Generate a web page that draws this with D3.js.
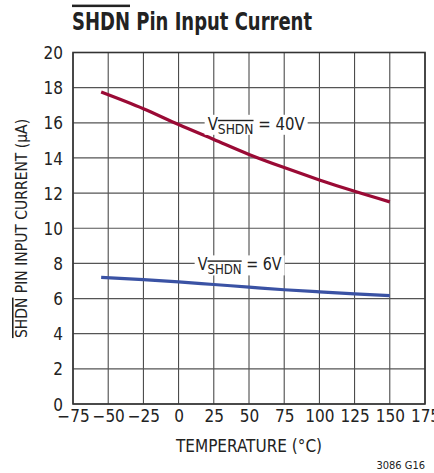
<!DOCTYPE html>
<html>
<head>
<meta charset="utf-8">
<script src="https://cdn.jsdelivr.net/npm/d3@7"></script>
<style>
  body { margin: 0; background: #fff; }
  svg { display: block; font-family: "DejaVu Sans Condensed", "Liberation Sans Narrow", sans-serif; }
</style>
</head>
<body>
<svg id="chart" width="434" height="473"></svg>
<script>
// data
const temps = [-55, -25, 0, 25, 50, 75, 100, 125, 150];
const i40 = [17.75, 16.8, 15.9, 15.05, 14.2, 13.45, 12.75, 12.1, 11.5];
const i6 = [7.2, 7.08, 6.95, 6.8, 6.65, 6.5, 6.38, 6.27, 6.17];
const xTicks = [-75, -50, -25, 0, 25, 50, 75, 100, 125, 150, 175];
const yTicks = [0, 2, 4, 6, 8, 10, 12, 14, 16, 18, 20];

const svg = d3.select('#chart');
const margin = { top: 52.5, right: 9, bottom: 69, left: 73 };
const width = 434 - margin.left - margin.right;
const height = 473 - margin.top - margin.bottom;

const x = d3.scaleLinear().domain([-75, 175]).range([0, width]);
const y = d3.scaleLinear().domain([0, 20]).range([height, 0]);

const g = svg.append('g').attr('transform', `translate(${margin.left},${margin.top})`);

// grid
g.selectAll('.vg').data(xTicks).enter().append('line')
  .attr('x1', d => x(d)).attr('x2', d => x(d))
  .attr('y1', 0).attr('y2', height)
  .attr('stroke', '#3a3a3a').attr('stroke-width', 1);
g.selectAll('.hg').data(yTicks).enter().append('line')
  .attr('x1', 0).attr('x2', width)
  .attr('y1', d => y(d)).attr('y2', d => y(d))
  .attr('stroke', '#555').attr('stroke-width', 1.2);
g.append('rect').attr('width', width).attr('height', height)
  .attr('fill', 'none').attr('stroke', '#333').attr('stroke-width', 1.6);

// tick labels via axes
const xAxis = g.append('g').attr('transform', `translate(0,${height})`)
  .call(d3.axisBottom(x).tickValues(xTicks).tickSize(0).tickPadding(6)
    .tickFormat(d => d < 0 ? '\u2212' + Math.abs(d) : d));
const yAxis = g.append('g')
  .call(d3.axisLeft(y).tickValues(yTicks).tickSize(0).tickPadding(10));
[xAxis, yAxis].forEach(a => {
  a.select('.domain').remove();
  a.selectAll('text').attr('font-size', 17).attr('fill', '#222')
    .attr('font-family', '"DejaVu Sans Condensed", sans-serif');
});
yAxis.selectAll('text').attr('dy', '0.36em');

// curves
const line = d3.line().x((d, i) => x(temps[i])).y(d => y(d)).curve(d3.curveMonotoneX);
g.append('path').datum(i40).attr('d', line).attr('fill', 'none')
  .attr('stroke', '#9a0a35').attr('stroke-width', 3.2);
g.append('path').datum(i6).attr('d', line).attr('fill', 'none')
  .attr('stroke', '#3a52a4').attr('stroke-width', 3.2);

// curve labels (white box breaks the gridline behind the text)
function curveLabel(cx, cy, val, w) {
  g.append('rect').attr('x', cx).attr('y', cy - 15).attr('width', w).attr('height', 20).attr('fill', '#fff');
  const t = g.append('text').attr('x', cx + 3).attr('y', cy).attr('font-size', 17).attr('fill', '#222')
    .attr('textLength', w - 6).attr('lengthAdjust', 'spacingAndGlyphs');
  t.append('tspan').text('V');
  t.append('tspan').attr('dy', 4).attr('font-size', 14).attr('text-decoration', 'overline').text('SHDN');
  t.append('tspan').attr('dy', -4).text(' = ' + val);
}
curveLabel(x(18.5), y(16) + 7, '40V', 103);
curveLabel(x(11.4), y(8) + 7, '6V', 90);

// title, squeezed to the condensed width of the original
const title = svg.append('text').attr('transform', 'translate(72,30) scale(0.8,1)')
  .attr('font-size', 25).attr('font-weight', 'bold').attr('fill', '#222');
title.append('tspan').attr('text-decoration', 'overline').text('SHDN');
title.append('tspan').text('\u00A0Pin Input Current');

// axis titles
svg.append('text').attr('x', margin.left + width / 2).attr('y', 452)
  .attr('text-anchor', 'middle').attr('font-size', 17).attr('fill', '#222')
  .text('TEMPERATURE (\u00B0C)');
const yt = svg.append('text')
  .attr('transform', `translate(27,228.5) rotate(-90)`)
  .attr('text-anchor', 'middle').attr('font-size', 15.5).attr('fill', '#222');
yt.append('tspan').attr('text-decoration', 'overline').text('SHDN');
yt.append('tspan').text(' PIN INPUT CURRENT (\u00B5A)');

svg.append('text').attr('x', 425).attr('y', 469).attr('text-anchor', 'end')
  .attr('font-size', 11).attr('fill', '#222').text('3086 G16');
</script>
</body>
</html>
